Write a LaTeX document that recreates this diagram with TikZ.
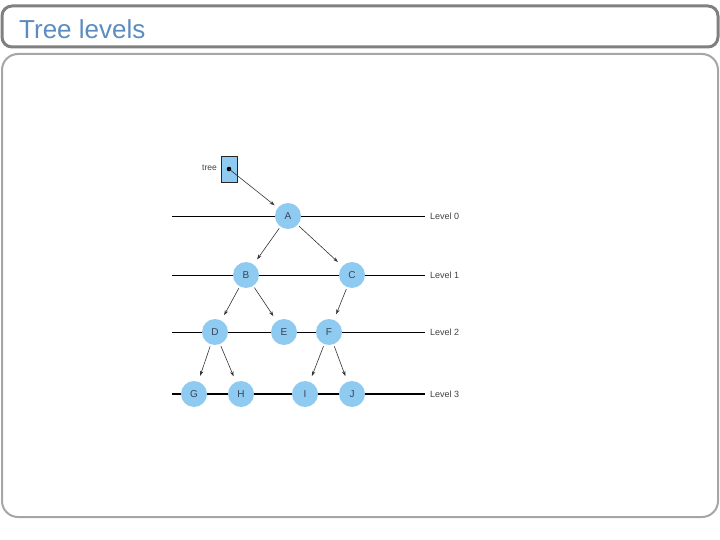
\documentclass[tikz,border=0pt]{standalone}
\usepackage{fontspec}
\setmainfont{Liberation Sans}
\usepackage{xcolor}
\usetikzlibrary{arrows.meta,positioning,calc}
\definecolor{nodeblue}{HTML}{8FCBF0}
\definecolor{titleblue}{HTML}{5B8CC0}
\definecolor{lettercol}{HTML}{34445E}

\begin{document}
\begin{tikzpicture}[
    x=1pt,y=-1pt,
    vertex/.style={circle,fill=nodeblue,minimum size=26pt,inner sep=0pt,font=\fontsize{10}{10}\selectfont,text=lettercol},
    levelline/.style={line width=0.8pt},
    levellabel/.style={anchor=west,font=\fontsize{9}{9}\selectfont,text=black!75,inner sep=0pt},
    link/.style={->,line width=0.6pt,black!80,shorten <=2pt,shorten >=6pt},
    >={Stealth[length=5pt,width=3.5pt]},
]
    \useasboundingbox (0,0) rectangle (720,540);
    % frames
    \draw[line width=3pt,black!50,rounded corners=10pt] (2,6) rectangle (718,47);
    \node[anchor=base west,font=\fontsize{26}{26}\selectfont,text=titleblue,inner sep=0pt] (title) at (19,39) {Tree levels};
    \draw[line width=2pt,black!35,rounded corners=16pt] (2,54) rectangle (718,517);

    % level lines
    \draw[levelline] (172,216) -- (425,216);
    \draw[levelline] (172,275) -- (425,275);
    \draw[levelline] (172,332) -- (425,332);
    \draw[line width=2.4pt] (172,394) -- (425,394);
    \node[levellabel] (l0) at (430,216) {Level 0};
    \node[levellabel] (l1) at (430,275) {Level 1};
    \node[levellabel] (l2) at (430,332) {Level 2};
    \node[levellabel] (l3) at (430,394) {Level 3};

    % nodes
    \node[vertex] (A) at (288,216) {A};
    \node[vertex] (B) at (246,275) {B};
    \node[vertex] (C) at (352,275) {C};
    \node[vertex] (D) at (215,332) {D};
    \node[vertex] (E) at (284,332) {E};
    \node[vertex] (F) at (329,332) {F};
    \node[vertex] (G) at (194,394) {G};
    \node[vertex] (H) at (241,394) {H};
    \node[vertex] (I) at (305,394) {I};
    \node[vertex] (J) at (352,394) {J};

    % external pointer
    \node[draw=black!85,fill=nodeblue,minimum width=16pt,minimum height=26pt,inner sep=0pt,line width=0.6pt] (ptr) at (229,169) {};
    \node[anchor=east,font=\fontsize{8.5}{8.5}\selectfont,text=black!75,inner sep=0pt] (ptrlabel) at (217,168) {tree};
    \fill (ptr.center) circle (2.3pt);
    \coordinate (dot) at (ptr.center);

    % links
    \draw[link,shorten <=0pt,shorten >=4pt] (dot) -- (A);
    \draw[link] (A) -- (B);
    \draw[link] (A) -- (C);
    \draw[link] (B) -- (D);
    \draw[link] (B) -- (E);
    \draw[link] (C) -- (F);
    \draw[link] (D) -- (G);
    \draw[link] (D) -- (H);
    \draw[link] (F) -- (I);
    \draw[link] (F) -- (J);
\end{tikzpicture}
\end{document}
